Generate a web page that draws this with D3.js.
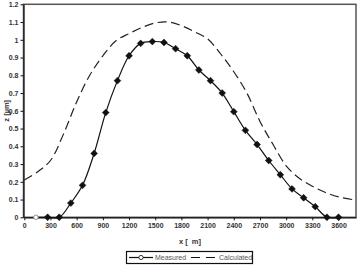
<!DOCTYPE html>
<html><head><meta charset="utf-8">
<script src="https://cdn.jsdelivr.net/npm/d3@7"></script>
<style>body{margin:0;background:#fff}svg{display:block}</style>
</head><body>
<script>
const measuredX = [133,267,400,533,667,800,933,1067,1200,1333,1467,1600,1733,1867,2000,2133,2267,2400,2533,2667,2800,2933,3067,3200,3333,3467,3600];
const measuredZ = [0,0,0,0.08,0.18,0.36,0.59,0.77,0.91,0.98,0.99,0.985,0.95,0.91,0.83,0.77,0.70,0.595,0.49,0.41,0.32,0.24,0.16,0.11,0.06,0,0];
const calcX = [0,150,300,450,600,750,900,1050,1200,1350,1500,1650,1800,1950,2100,2250,2400,2550,2700,2850,3000,3150,3300,3450,3600,3800];
const calcZ = [0.21,0.255,0.32,0.47,0.65,0.80,0.91,0.995,1.035,1.07,1.095,1.10,1.08,1.045,1.005,0.92,0.82,0.70,0.54,0.41,0.29,0.22,0.175,0.14,0.115,0.097];
const xTicks = [0,300,600,900,1200,1500,1800,2100,2400,2700,3000,3300,3600];
const yTicks = [0,0.1,0.2,0.3,0.4,0.5,0.6,0.7,0.8,0.9,1,1.1,1.2];

const W=359,H=265;
const svg=d3.select("body").append("svg").attr("width",W).attr("height",H);
const L=23.5,R=356,T=4.3,B=217.3;
const x=d3.scaleLinear().domain([0,3800]).range([L+0.8,R]);
const y=d3.scaleLinear().domain([0,1.2]).range([B,T]);

// frame
svg.append("rect").attr("x",L).attr("y",T).attr("width",R-L).attr("height",B-T)
  .attr("fill","none").attr("stroke","#555").attr("stroke-width",1.5);

const font="Liberation Sans, Arial, sans-serif";
const xa=svg.append("g").attr("transform",`translate(0,${B})`)
  .call(d3.axisBottom(x).tickValues(xTicks).tickSize(3).tickSizeOuter(0).tickFormat(d3.format("d")));
const ya=svg.append("g").attr("transform",`translate(${L},0)`)
  .call(d3.axisLeft(y).tickValues(yTicks).tickSize(3).tickSizeOuter(0).tickFormat(d=>String(+d.toFixed(1))));
[xa,ya].forEach(a=>{
  a.select(".domain").attr("stroke","#111").attr("stroke-width",1.2);
  a.selectAll(".tick line").attr("stroke","#111");
  a.selectAll("text").attr("font-family",font).attr("font-size",7).attr("font-weight","bold").attr("fill","#333");
});
xa.selectAll("text").attr("dy","0.9em").attr("y",4);
ya.selectAll("text").attr("x",-5);

// calculated
svg.append("path").datum(calcX.map((d,i)=>[d,calcZ[i]]))
  .attr("d",d3.line().x(d=>x(d[0])).y(d=>y(d[1])).curve(d3.curveCatmullRom))
  .attr("fill","none").attr("stroke","#222").attr("stroke-width",1.2).attr("stroke-dasharray","9,4.5");

// measured
const mData=measuredX.map((d,i)=>[d,measuredZ[i]]);
svg.append("path").datum(mData)
  .attr("d",d3.line().x(d=>x(d[0])).y(d=>y(d[1])).curve(d3.curveCatmullRom))
  .attr("fill","none").attr("stroke","#111").attr("stroke-width",1.2);
const diamond=d3.symbol().type(d3.symbolDiamond2).size(30);
svg.selectAll(".mk").data(mData).join("path")
  .attr("transform",d=>`translate(${x(d[0])},${y(d[1])})`)
  .attr("d",(d,i)=> i===0 ? d3.symbol().type(d3.symbolCircle).size(16)() : diamond())
  .attr("fill",(d,i)=>i===0?"#fff":"#111").attr("stroke",(d,i)=>i===0?"#777":"#111").attr("stroke-width",(d,i)=>i===0?0.8:0.5);

// axis labels
svg.append("text").attr("x",190).attr("y",244).attr("text-anchor","middle")
  .attr("font-family",font).attr("font-size",7.5).attr("font-weight","bold").attr("fill","#333").text("x [\u00a0\u00a0m]");
svg.append("text").attr("transform",`translate(9,${(T+B)/2}) rotate(-90)`).attr("text-anchor","middle")
  .attr("font-family",font).attr("font-size",7.5).attr("font-weight","bold").attr("fill","#333").text("z [µm]");

// legend
const lg=svg.append("g");
lg.append("rect").attr("x",126.5).attr("y",251.5).attr("width",126).attr("height",12)
  .attr("fill","#fff").attr("stroke","#111").attr("stroke-width",1.2);
lg.append("line").attr("x1",129).attr("x2",153).attr("y1",257.5).attr("y2",257.5).attr("stroke","#111").attr("stroke-width",1.2);
lg.append("path").attr("transform","translate(141,257.5)").attr("d",d3.symbol().type(d3.symbolCircle).size(14)())
  .attr("fill","#fff").attr("stroke","#222").attr("stroke-width",0.9);
lg.append("text").attr("x",155).attr("y",260.3).attr("font-family",font).attr("font-size",7).attr("fill","#555").text("Measured");
lg.append("line").attr("x1",191).attr("x2",216).attr("y1",257.5).attr("y2",257.5).attr("stroke","#111").attr("stroke-width",1.2).attr("stroke-dasharray","9,6");
lg.append("text").attr("x",219).attr("y",260.3).attr("font-family",font).attr("font-size",7).attr("fill","#555").text("Calculated");
</script>
</body></html>
